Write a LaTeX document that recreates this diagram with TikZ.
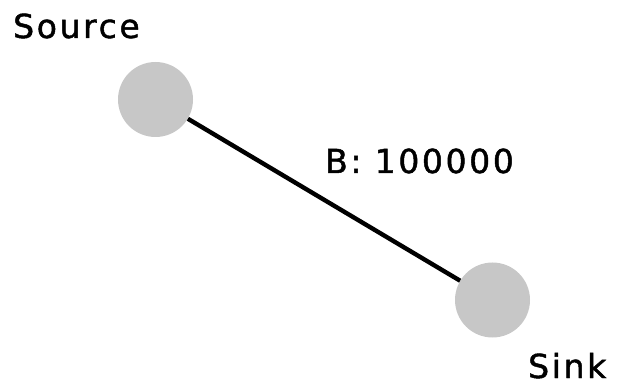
\documentclass[tikz,border=0pt]{standalone}
\usepackage{fontspec}
\setmainfont{DejaVu Sans}[LetterSpace=8,FakeBold=1.4]
\begin{document}
\begin{tikzpicture}[x=1pt,y=1pt,
  vertex/.style={circle,fill=black!22,minimum size=75pt,inner sep=0pt},
  tag/.style={inner sep=0pt,font=\fontsize{33}{36}\selectfont},
  link/.style={line width=4.4pt,black}]
  \useasboundingbox (0,0) rectangle (617,385);
  % nodes of the network
  \node[vertex] (src) at (155.5,285.5) {};
  \node[vertex] (snk) at (492.5,85) {};
  % edge with its capacity
  \draw[link] (src) -- (snk);
  \node[tag,anchor=base west] (cap) at (325,212) {B: 100000};
  % node names
  \node[tag,anchor=base west] (srcname) at (13,347) {Source};
  \node[tag,anchor=base west] (snkname) at (528,7) {Sink};
\end{tikzpicture}
\end{document}
